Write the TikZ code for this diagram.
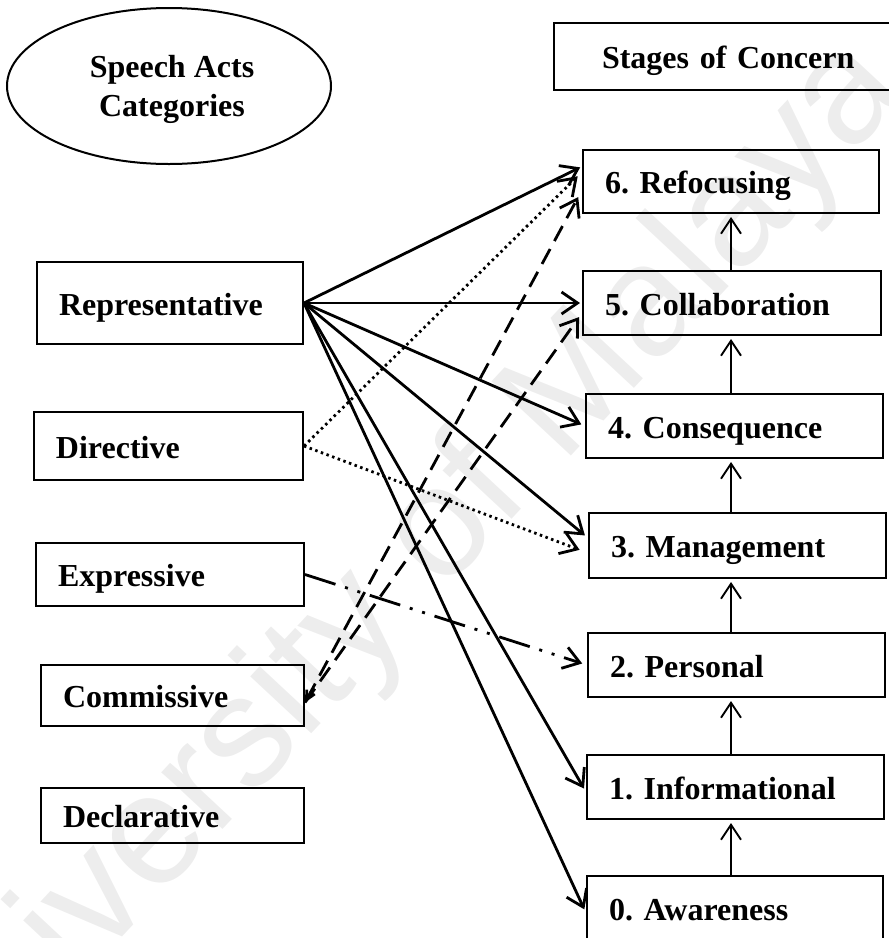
\documentclass[tikz,border=0pt]{standalone}
\usepackage{fontspec}
\setmainfont{Liberation Serif}
\newfontfamily\wmfont{Liberation Sans}
\usetikzlibrary{arrows.meta,shapes.geometric,calc}
\frenchspacing
\begin{document}
\begin{tikzpicture}[x=1pt,y=-1pt,
  lbl/.style={font=\fontsize{32}{39}\selectfont\bfseries},
  box/.style={lbl, draw, line width=2pt, rectangle, inner xsep=22pt, inner ysep=0pt, text height=24pt, text depth=0pt, align=left, anchor=center},
  sarrow/.style={line width=2.8pt, -{Straight Barb[length=16pt,width=22pt]}, shorten >=2pt},
  dotarrow/.style={line width=2.8pt, dash pattern=on 2.5pt off 3.5pt, -{Straight Barb[length=16pt,width=22pt]}},
  dasharrow/.style={line width=2.8pt, dash pattern=on 17pt off 9pt, -{Straight Barb[length=16pt,width=22pt]}},
  dddarrow/.style={line width=2.8pt, dash pattern=on 32pt off 10pt on 3pt off 10pt on 3pt off 10pt, -{Straight Barb[length=16pt,width=22pt]}},
  varrow/.style={line width=1.9pt, -{Straight Barb[length=15pt,width=20pt]}, shorten >=3pt}
]
\useasboundingbox (0,0) rectangle (889,938);
\clip (0,0) rectangle (889,938);

% faint watermark
\node[rotate=47, text=black!7, font=\wmfont\fontsize{158}{158}\selectfont] (wm) at (395,585) {University of Malaya};

% headings
\node[draw, ellipse, line width=2pt, minimum width=324pt, minimum height=156pt, inner sep=0pt] (sac) at (169,86) {};
\node[lbl, align=center, inner sep=0pt] (sactext) at (172,89) {Speech Acts\\Categories};
\node[box, inner xsep=48pt, text width=260pt, minimum height=67pt] (soc) at (732,56.5) {Stages of Concern};

% speech act categories
\node[box, text width=222pt, minimum height=82pt] (rep) at (170,303) {Representative};
\node[box, text width=225pt, minimum height=68pt] (dir) at (168.5,446) {Directive};
\node[box, text width=224pt, minimum height=63pt] (exp) at (170,574.5) {Expressive};
\node[box, text width=219pt, minimum height=61pt] (com) at (172.5,695.5) {Commissive};
\node[box, text width=219pt, minimum height=55pt] (dec) at (172.5,815.5) {Declarative};

% stages of concern
\node[box, text width=252pt, minimum height=63pt] (r6) at (731,181.5) {6. Refocusing};
\node[box, text width=254pt, minimum height=64pt] (r5) at (732,303) {5. Collaboration};
\node[box, text width=253pt, minimum height=64pt] (r4) at (734.5,426) {4. Consequence};
\node[box, text width=253pt, minimum height=65pt] (r3) at (737.5,545.5) {3. Management};
\node[box, text width=253pt, minimum height=64pt] (r2) at (736.5,665) {2. Personal};
\node[box, text width=253pt, minimum height=64pt] (r1) at (735.5,787) {1. Informational};
\node[box, text width=252pt, minimum height=64pt] (r0) at (735,908) {0. Awareness};

% upward arrows between stages
\coordinate (col) at (731,0);
\foreach \a/\b in {r0/r1,r1/r2,r2/r3,r3/r4,r4/r5,r5/r6}
  \draw[varrow] (\a.north -| col) -- (\b.south -| col);

% Representative
\draw[sarrow] (rep.east) -- ([yshift=15pt]r6.west);
\draw[sarrow] (rep.east) -- (r5.west);
\draw[sarrow, shorten >=4pt] (rep.east) -- (r4.west);
\draw[sarrow, shorten >=4pt] (rep.east) -- ([yshift=7.5pt]r3.west);
\draw[sarrow, shorten >=4pt] (rep.east) -- ([yshift=-5pt]r1.west);
\draw[sarrow, shorten >=4pt] (rep.east) -- ([yshift=-5pt]r0.west);

% Directive
\draw[dotarrow, shorten >=6pt] (dir.east) -- ([yshift=9.5pt]r6.west);
\draw[dotarrow, shorten >=9pt] (dir.east) -- ([yshift=-7.5pt]r3.west);

% Expressive
\draw[dddarrow, shorten >=5pt] (exp.east) -- (r2.west);

% Commissive
\draw[dasharrow, {Straight Barb[length=9pt,width=9pt]}-{Straight Barb[length=16pt,width=22pt]}, shorten >=8pt] ([yshift=-7pt]com.east) -- ([yshift=-8.5pt]r6.west);
\draw[dasharrow, shorten >=5pt] ([yshift=-7pt]com.east) -- ([yshift=-10pt]r5.west);
\end{tikzpicture}
\end{document}
